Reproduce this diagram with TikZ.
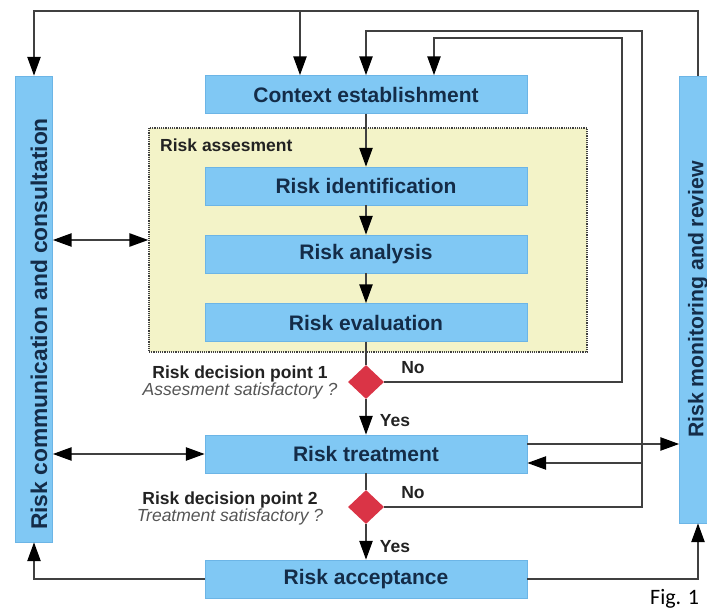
\documentclass[tikz,border=0pt]{standalone}
\usepackage{fontspec}
\setmainfont{Liberation Sans}
\newfontfamily\figfont{Carlito}
\usepackage{tikz}
\usetikzlibrary{arrows.meta, shapes.geometric}
\definecolor{boxblue}{HTML}{80C8F4}
\definecolor{boxedge}{HTML}{6CB5E6}
\definecolor{boxtext}{HTML}{142C48}
\definecolor{assessfill}{HTML}{F3F3C8}
\definecolor{decred}{HTML}{DA3446}
\definecolor{linegray}{HTML}{404040}
\definecolor{labeltext}{HTML}{222222}
\definecolor{questiontext}{HTML}{555555}
\tikzset{
    stage/.style={
        rectangle,
        minimum width=322pt,
        minimum height=38pt,
        inner sep=0pt,
        draw=boxedge,
        fill=boxblue,
        text=boxtext,
        font=\bfseries\fontsize{21pt}{24pt}\selectfont
    },
    sidebar/.style={
        rectangle,
        minimum width=37pt,
        inner sep=0pt,
        draw=boxedge,
        fill=boxblue,
        text=boxtext
    },
    decision/.style={
        diamond,
        minimum width=36pt,
        minimum height=34pt,
        inner sep=0pt,
        fill=decred
    },
    link/.style={
        line width=2.5pt,
        draw=linegray
    },
    flow/.style={
        link,
        ->,
        >={Triangle[length=19pt,width=13pt,color=black]}
    },
    flowboth/.style={
        flow,
        <->
    }
}

\begin{document}
\begin{tikzpicture}[
    x=1pt, y=-1pt,
    tag/.style={font=\bfseries\fontsize{17.5pt}{19pt}\selectfont, text=labeltext, inner sep=0pt},
    question/.style={font=\itshape\fontsize{17.5pt}{19pt}\selectfont, text=questiontext, inner sep=0pt}
]
\useasboundingbox (0,0) rectangle (707,612);

% assessment frame behind the three steps
\node[rectangle, draw=linegray, densely dotted, line width=1.2pt, fill=assessfill,
      minimum width=438pt, minimum height=224pt] (assess) at (368,240) {};
\node[tag, anchor=west] (assesslabel) at (160,145) {Risk assesment};

\node[stage] (ctx) at (366,94.5) {Context establishment};
\node[stage] (ident) at (366,186) {Risk identification};
\node[stage] (anal) at (366,254) {Risk analysis};
\node[stage] (eval) at (366,322.5) {Risk evaluation};
\node[decision] (dec1) at (366,382) {};
\node[stage] (treat) at (366,454) {Risk treatment};
\node[decision] (dec2) at (366,507) {};
\node[stage] (accept) at (366,579) {Risk acceptance};

\node[sidebar, minimum height=466pt, font=\bfseries\fontsize{22.8pt}{24pt}\selectfont] (comm) at (34,309)
    {\rotatebox{90}{\raisebox{-5pt}[\height][\depth]{Risk communication and consultation\hspace*{30pt}}}};
\node[sidebar, minimum height=447pt, font=\bfseries\fontsize{21.2pt}{24pt}\selectfont] (mon) at (698,299.5)
    {\rotatebox{90}{Risk monitoring and review}};

% decision texts
\node[tag] (dp1) at (240,374) {Risk decision point 1};
\node[question] (dp1q) at (240,391) {Assesment satisfactory ?};
\node[tag] (dp2) at (230,500) {Risk decision point 2};
\node[question] (dp2q) at (230,517) {Treatment satisfactory ?};
\node[tag] (no1) at (413,368) {No};
\node[tag] (yes1) at (395,421) {Yes};
\node[tag] (no2) at (413,493) {No};
\node[tag] (yes2) at (395,547) {Yes};

\node[font=\figfont\fontsize{22pt}{24pt}\selectfont, anchor=base west, inner sep=0pt] (fig) at (650,604) {Fig. 1};

% main chain
\draw[flow] (ctx) -- (ident);
\draw[flow] (ident) -- (anal);
\draw[flow] (anal) -- (eval);
\draw[link] (eval) -- (dec1);
\draw[flow] (dec1) -- (treat);
\draw[link] (treat) -- (dec2);
\draw[flow] (dec2) -- (accept);

% loops back to the context
\coordinate (ytop) at (0,11);
\coordinate (tjoin) at (300,11);
\coordinate (r2) at (642,31);
\coordinate (r3) at (622,38);
\draw[flow] (mon.north) |- (comm.north |- ytop) -- (comm.north);
\draw[flow] (tjoin) -- (tjoin |- ctx.north);
\draw[flow] (dec2.east) -| (r2) -| (ctx.north);
\draw[flow] (dec1.east) -| (r3) -| ([xshift=68pt]ctx.north);

% side links
\draw[flowboth] (assess.west -| comm.east) -- (assess.west);
\draw[flowboth] (treat.west -| comm.east) -- (treat.west);
\draw[flow] ([yshift=10pt]treat.east) -- ([yshift=10pt]treat.east -| mon.west);
\draw[flow] ([yshift=-9pt]treat.east -| r2) -- ([yshift=-9pt]treat.east);
\draw[flow] (accept.west) -| (comm.south);
\draw[flow] (accept.east) -| (mon.south);
\end{tikzpicture}
\end{document}
